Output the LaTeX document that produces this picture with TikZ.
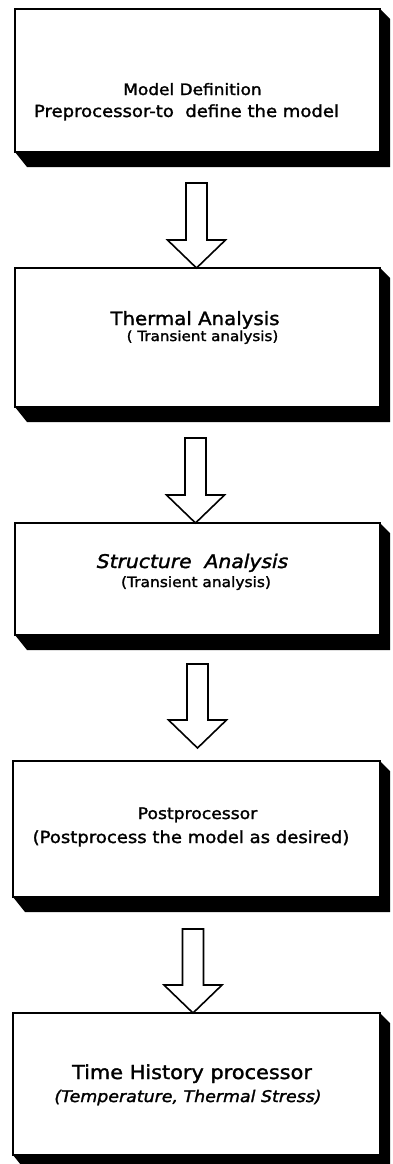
\documentclass[tikz,border=0pt]{standalone}
\usepackage{fontspec}
\setmainfont{DejaVu Sans}[FakeStretch=1.08,FakeBold=1.6]
\usetikzlibrary{calc}
\newcommand\fs[1]{\fontsize{#1}{#1}\selectfont}
\tikzset{
  stagebox/.style={draw=black, line width=1.6pt, fill=white, inner sep=0pt, outer sep=0pt, rectangle},
  lbl/.style={anchor=base, inner sep=0pt, text=black},
  flowarr/.style={draw=black, line width=1.6pt, fill=white, line join=miter},
  shade3d/.style={fill=black}
}
\newcommand\boxshadow[1]{%
  \fill[shade3d] (#1.north east) -- ++(10,10) -- ($(#1.south east)+(10,15)$) -- ($(#1.south west)+(12,15)$) -- (#1.south west) -- (#1.south east) -- cycle;}
\newcommand\flowarrow[2]{% #1 shaft top coordinate, #2 tip coordinate
  \draw[flowarr] ($(#1)+(-10.5,0)$) -- ($(#1 |- #2)+(-10.5,-28)$) -- ($(#1 |- #2)+(-29,-28)$) -- (#1 |- #2) -- ($(#1 |- #2)+(29,-28)$) -- ($(#1 |- #2)+(10.5,-28)$) -- ($(#1)+(10.5,0)$) -- cycle;}
\begin{document}
\begin{tikzpicture}[x=1pt,y=-1pt]
\useasboundingbox (0,0) rectangle (393,1164);
\fill[white] (0,0) rectangle (393,1164);
\clip (0,0) rectangle (393,1164);

% boxes
\node[stagebox, minimum width=365pt, minimum height=143pt] (b1) at (197.5,80.5) {};
\node[stagebox, minimum width=365pt, minimum height=139pt] (b2) at (197.5,337.5) {};
\node[stagebox, minimum width=365pt, minimum height=112pt] (b3) at (197.5,579) {};
\node[stagebox, minimum width=367pt, minimum height=136pt] (b4) at (196.5,829) {};
\node[stagebox, minimum width=367pt, minimum height=142pt] (b5) at (196.5,1084) {};

\boxshadow{b1}
\boxshadow{b2}
\boxshadow{b3}
\boxshadow{b4}
\boxshadow{b5}

% labels
\node[lbl] (t1a) at (192.5,95) {\fs{15.7}Model Definition};
\node[lbl] (t1b) at (186.5,117) {\fs{16.7}Preprocessor-to~~define the model};
\node[lbl] (t2a) at (195,325) {\fs{18.3}Thermal Analysis};
\node[lbl] (t2b) at (202.5,341) {\fs{14}( Transient analysis)};
\node[lbl] (t3a) at (192.5,568) {\fs{18.8}\itshape Structure~~Analysis};
\node[lbl] (t3b) at (196,587) {\fs{14.3}(Transient analysis)};
\node[lbl] (t4a) at (197.5,819) {\fs{15.9}Postprocessor};
\node[lbl] (t4b) at (191,843) {\fs{16.7}(Postprocess the model as desired)};
\node[lbl] (t5a) at (192,1079) {\fs{19.3}Time History processor};
\node[lbl] (t5b) at (188,1102) {\fs{16.1}\itshape (Temperature, Thermal Stress)};

% arrows
\coordinate (a1top) at (196.5,183);
\coordinate (a1tip) at (a1top |- b2.north);
\coordinate (a2top) at (195.5,438);
\coordinate (a2tip) at (a2top |- b3.north);
\coordinate (a3top) at (197.5,664);
\coordinate (a3tip) at ($(a3top |- b4.north)+(0,-13)$);
\coordinate (a4top) at (193,929);
\coordinate (a4tip) at (a4top |- b5.north);
\flowarrow{a1top}{a1tip}
\flowarrow{a2top}{a2tip}
\flowarrow{a3top}{a3tip}
\flowarrow{a4top}{a4tip}
\end{tikzpicture}
\end{document}
